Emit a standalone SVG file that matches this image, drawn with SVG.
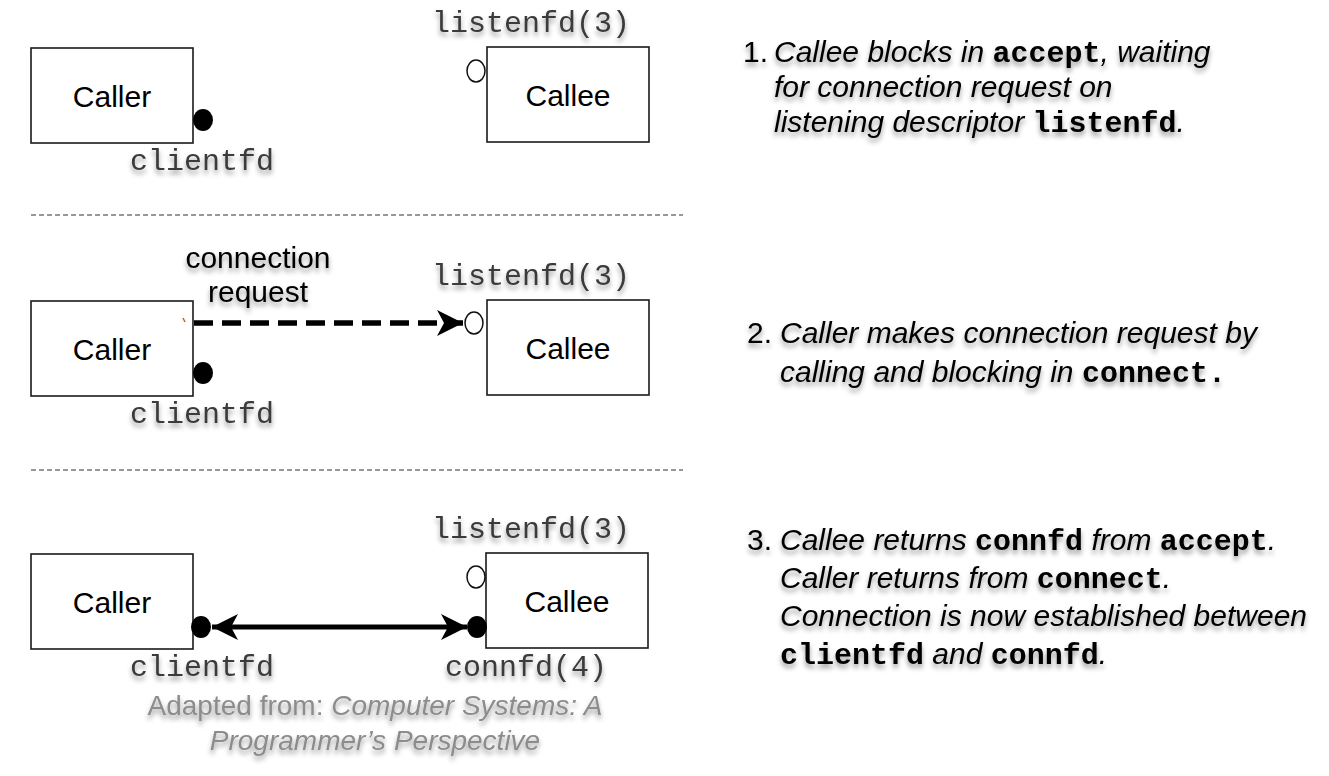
<svg xmlns="http://www.w3.org/2000/svg" width="1329" height="776" viewBox="0 0 1329 776">
<style>
.box{fill:#fff;stroke:#1a1a1a;stroke-width:1.6}
.lbl{font-family:"Liberation Sans",Arial,sans-serif;font-size:30px;fill:#000;text-anchor:middle}
.mono{font-family:"Liberation Mono","Courier New",monospace;font-size:30px;fill:#3a3a3a}
.sep{stroke:#333;stroke-width:1.2;stroke-dasharray:5 3;fill:none}
.open{fill:#fff;stroke:#111;stroke-width:1.5}
.dot{fill:#000}
.note{font-family:"Liberation Sans",Arial,sans-serif;font-size:30px;fill:#000;font-style:italic}
.num{font-style:normal}
.code{font-family:"Liberation Mono","Courier New",monospace;font-weight:bold;font-style:normal}
.foot{font-family:"Liberation Sans",Arial,sans-serif;font-size:28px;fill:#8c8c8c;text-anchor:middle}
.it{font-style:italic}
.sh{filter:url(#sh)}
</style>
<defs>
<filter id="sh" x="-10%" y="-30%" width="120%" height="180%">
<feDropShadow dx="0" dy="4" stdDeviation="2.5" flood-color="#000" flood-opacity="0.4"/>
</filter>
<marker id="ah" markerUnits="userSpaceOnUse" markerWidth="32" markerHeight="32" refX="26" refY="13" orient="auto-start-reverse" viewBox="0 0 32 26">
<path d="M26,13 L0,0 L7,13 L0,26 Z" fill="#000"/>
</marker>
</defs>
<rect width="1329" height="776" fill="#fff"/>

<!-- separators -->
<line class="sep" x1="31" y1="215" x2="683" y2="215"/>
<line class="sep" x1="31" y1="470" x2="683" y2="470"/>

<!-- Panel 1 -->
<g id="p1-caller"><rect class="box" x="31" y="48" width="162" height="95"/><text class="lbl" x="112" y="107">Caller</text></g>
<g id="p1-callee"><rect class="box" x="487" y="47" width="162" height="95"/><text class="lbl" x="568" y="106">Callee</text></g>
<g id="p1-listenfd"><ellipse class="open" cx="476" cy="71" rx="9" ry="11"/><text class="mono sh" x="432" y="32">listenfd(3)</text></g>
<g id="p1-clientfd"><ellipse class="dot" cx="203" cy="120" rx="10" ry="11"/><text class="mono sh" x="130" y="170">clientfd</text></g>

<!-- Panel 2 -->
<g id="p2-caller"><rect class="box" x="31" y="301" width="162" height="95"/><text class="lbl" x="112" y="360">Caller</text></g>
<g id="p2-callee"><rect class="box" x="487" y="300" width="162" height="95"/><text class="lbl" x="568" y="359">Callee</text></g>
<g id="p2-listenfd"><ellipse class="open" cx="474" cy="323" rx="9" ry="11"/><text class="mono sh" x="432" y="285">listenfd(3)</text></g>
<g id="p2-clientfd"><ellipse class="dot" cx="203" cy="373" rx="10" ry="11"/><text class="mono sh" x="130" y="423">clientfd</text></g>
<g id="p2-label"><text class="lbl sh" x="258" y="268">connection</text><text class="lbl sh" x="258" y="302">request</text></g>

<!-- Panel 3 -->
<g id="p3-caller"><rect class="box" x="31" y="554" width="162" height="95"/><text class="lbl" x="112" y="613">Caller</text></g>
<g id="p3-callee"><rect class="box" x="486" y="553" width="162" height="95"/><text class="lbl" x="567" y="612">Callee</text></g>
<g id="p3-listenfd"><ellipse class="open" cx="476" cy="577" rx="9" ry="11"/><text class="mono sh" x="432" y="538">listenfd(3)</text></g>
<g id="p3-clientfd"><ellipse class="dot" cx="201" cy="627" rx="10" ry="11"/><text class="mono sh" x="130" y="676">clientfd</text></g>
<g id="p3-connfd"><ellipse class="dot" cx="477" cy="627" rx="10" ry="11"/><text class="mono sh" x="445" y="676">connfd(4)</text></g>

<!-- connectors -->
<g id="connectors">
<line x1="194" y1="323" x2="463" y2="323" stroke="#000" stroke-width="5.5" stroke-dasharray="19 9" marker-end="url(#ah)"/>
<line x1="183" y1="318" x2="185" y2="322" stroke="#c8641e" stroke-width="1.5"/>
<line x1="212" y1="627" x2="467" y2="627" stroke="#000" stroke-width="5" marker-start="url(#ah)" marker-end="url(#ah)"/>
</g>

<!-- notes -->
<g id="note1" class="sh">
<text class="note" x="743" y="62"><tspan class="num">1.</tspan><tspan x="774">Callee blocks in </tspan><tspan class="code">accept</tspan>, waiting</text>
<text class="note" x="774" y="97">for connection request on</text>
<text class="note" x="774" y="132">listening descriptor <tspan class="code">listenfd</tspan>.</text>
</g>
<g id="note2" class="sh">
<text class="note" x="747" y="343"><tspan class="num">2.</tspan><tspan x="780">Caller makes connection request by</tspan></text>
<text class="note" x="780" y="382">calling and blocking in <tspan class="code">connect.</tspan></text>
</g>
<g id="note3" class="sh">
<text class="note" x="747" y="550"><tspan class="num">3.</tspan><tspan x="780">Callee returns </tspan><tspan class="code">connfd</tspan> from <tspan class="code">accept</tspan>.</text>
<text class="note" x="780" y="588">Caller returns from <tspan class="code">connect</tspan>.</text>
<text class="note" x="780" y="626">Connection is now established between</text>
<text class="note" x="780" y="664"><tspan class="code">clientfd</tspan> and <tspan class="code">connfd</tspan>.</text>
</g>

<!-- footer -->
<g id="footer" class="sh">
<text class="foot" x="375" y="715">Adapted from: <tspan class="it">Computer Systems: A</tspan></text>
<text class="foot it" x="375" y="750">Programmer’s Perspective</text>
</g>
</svg>
